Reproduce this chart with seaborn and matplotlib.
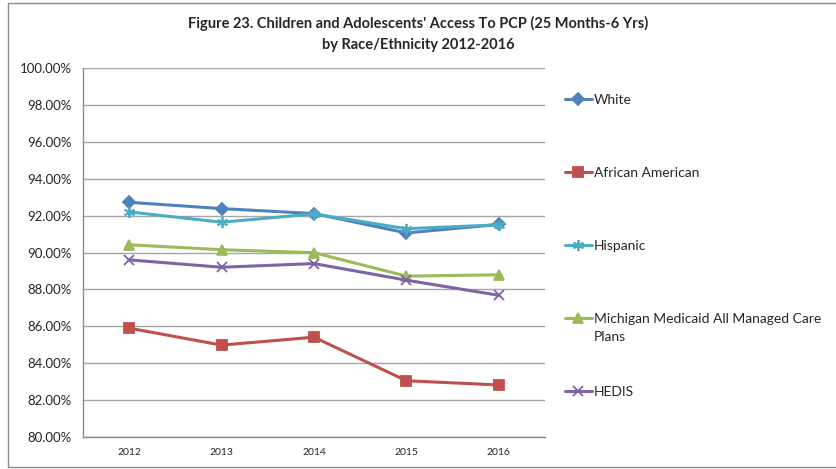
import pandas as pd
import matplotlib.pyplot as plt
import seaborn as sns
from matplotlib.patches import Rectangle
from matplotlib.ticker import FuncFormatter

years = ["2012", "2013", "2014", "2015", "2016"]
white = [92.72, 92.38, 92.11, 91.06, 91.52]
african_american = [85.90, 84.98, 85.41, 83.05, 82.82]
hispanic = [92.20, 91.64, 92.09, 91.29, 91.50]
michigan = [90.42, 90.15, 89.99, 88.72, 88.79]
hedis = [89.60, 89.20, 89.40, 88.50, 87.68]

series_names = ["White", "African American", "Hispanic",
                "Michigan Medicaid All Managed Care", "HEDIS"]
series_values = [white, african_american, hispanic, michigan, hedis]

rows = []
for name, vals in zip(series_names, series_values):
    for yr, v in zip(years, vals):
        rows.append({"year": yr, "rate": v, "group": name})
df = pd.DataFrame(rows)

colors = ["#4F81BD", "#C0504D", "#4BACC6", "#9BBB59", "#8064A2"]
markers = ["D", "s", (6, 2, 0), "^", "x"]
sizes = [6, 7, 8, 7, 7]

sns.set_style("white")
plt.rcParams['font.family'] = ['Lato', 'DejaVu Sans']

fig = plt.figure(figsize=(8.36, 4.69), dpi=100)
ax = fig.add_axes([83 / 836, 1 - 437 / 469, (545 - 83) / 836, (437 - 68) / 469])

for name, col, mk, ms in zip(series_names, colors, markers, sizes):
    sub = df[df["group"] == name]
    sns.lineplot(data=sub, x="year", y="rate", ax=ax, color=col, marker=mk,
                 markersize=ms, markeredgecolor=col, markeredgewidth=1.3,
                 linewidth=2.2, label=name, sort=False)

ax.set_ylim(80, 100)
ax.set_yticks(range(80, 101, 2))
ax.yaxis.set_major_formatter(FuncFormatter(lambda v, p: f"{v:.2f}%"))
ax.set_xlim(-0.5, 4.5)
ax.set_xlabel("")
ax.set_ylabel("")
ax.grid(axis="y", color="#A6A6A6", linewidth=1)
ax.set_axisbelow(True)
for s in ["top", "right"]:
    ax.spines[s].set_visible(False)
for s in ["left", "bottom"]:
    ax.spines[s].set_color("#8C8C8C")
    ax.spines[s].set_linewidth(1)
ax.tick_params(axis="y", labelsize=9.5, length=0, pad=8)
ax.tick_params(axis="x", labelsize=7.5, length=0, pad=8)

fig.text(418 / 836, 1 - 34 / 469,
         "Figure 23. Children and Adolescents' Access To PCP (25 Months-6 Yrs)\nby Race/Ethnicity 2012-2016",
         ha="center", va="center", fontsize=10.5, fontweight="bold", linespacing=1.6)

handles, labels = ax.get_legend_handles_labels()
leg = ax.legend(handles, labels, loc="upper left", bbox_to_anchor=(559 / 836, 1 - 88 / 469),
                bbox_transform=fig.transFigure, frameon=False, fontsize=10,
                labelspacing=4.4, handlelength=2.0, handletextpad=0.1, borderaxespad=0)

# second line of the Michigan label, placed under the legend text
fig.canvas.draw()
bb = leg.get_texts()[3].get_window_extent()
fig.text(bb.x0 / fig.bbox.width, (bb.y0 - 18) / fig.bbox.height, "Plans",
         fontsize=10, ha="left", va="bottom")

fig.patches.append(Rectangle((8 / 836, 2 / 469), 1.1, 1 - 5 / 469, transform=fig.transFigure,
                             fill=False, edgecolor="#8C8C8C", linewidth=1))

fig.savefig("out.png", dpi=100)
